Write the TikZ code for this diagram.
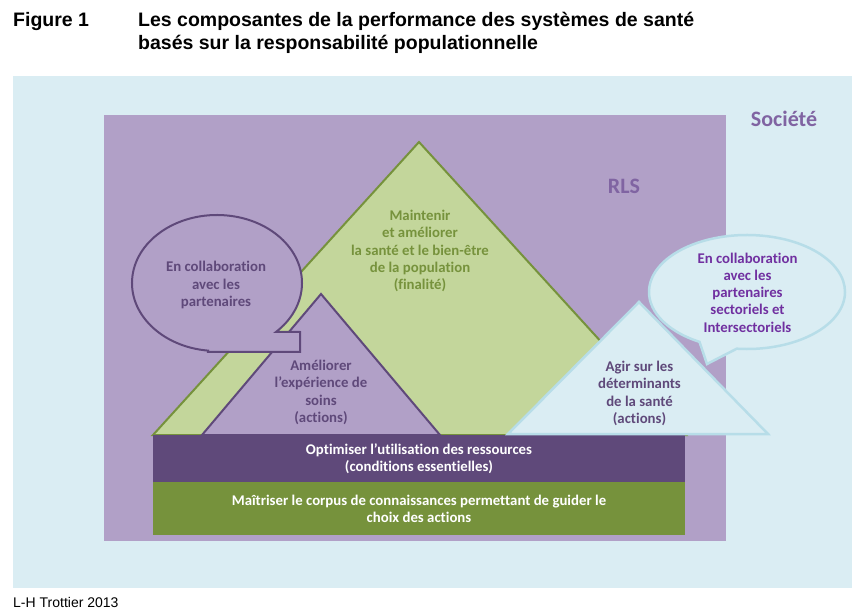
\documentclass[tikz,border=0pt]{standalone}
\usepackage{fontspec}
\setmainfont{Carlito}[Ligatures=NoCommon]
\newfontfamily\arialfont{Liberation Sans}
\definecolor{socblue}{RGB}{218,237,243}
\definecolor{socedge}{RGB}{183,221,232}
\definecolor{rlspurple}{RGB}{177,160,199}
\definecolor{darkpurple}{RGB}{95,73,122}
\definecolor{midpurple}{RGB}{128,100,162}
\definecolor{vividpurple}{RGB}{112,48,160}
\definecolor{lightgreen}{RGB}{195,214,155}
\definecolor{olivegreen}{RGB}{118,146,60}
\usetikzlibrary{positioning}

\tikzset{
  txt/.style={font=\bfseries\fontsize{14.8}{17.2}\selectfont,align=center,inner sep=0pt},
  bigtxt/.style={font=\bfseries\fontsize{22}{26}\selectfont,text=midpurple,inner sep=0pt},
  barbox/.style={txt,text=white,minimum width=532pt},
  tri/.style={line width=2pt,line join=miter},
  paleedge/.style={draw=socedge,fill=socblue,line width=2.5pt}
}

\begin{document}
\begin{tikzpicture}[x=1pt,y=-1pt]
  \useasboundingbox (0,0) rectangle (860,612);

  % title
  \node[anchor=base west,inner sep=0pt,font=\arialfont\bfseries\fontsize{19.5}{22.5}\selectfont] (fignum) at (13,26.7) {Figure 1};
  \node[anchor=base west,inner sep=0pt,align=left,font=\arialfont\bfseries\fontsize{19.5}{22.5}\selectfont] (figtitle) at (138,49.2)
    {Les composantes de la performance des systèmes de santé\\basés sur la responsabilité populationnelle};

  % Société and RLS
  \fill[socblue] (13,76) rectangle (852,588);
  \fill[rlspurple] (104,115) rectangle (726,541);
  \node[bigtxt] (societe) at (784,119) {Société};
  \node[bigtxt] (rls) at (624,186) {RLS};

  % finalité
  \draw[tri,draw=olivegreen,fill=lightgreen] (153,435) -- (419,142) -- (686,435) -- cycle;
  \node[txt,text=olivegreen] (finalite) at (420,251)
    {Maintenir\\et améliorer\\la santé et le bien-être\\de la population\\(finalité)};

  % expérience de soins
  \draw[tri,draw=darkpurple,fill=rlspurple] (202,435) -- (321,294) -- (440,435) -- cycle;
  \node[txt,text=darkpurple] (expsoins) at (321,392.5)
    {Améliorer\\l’expérience de\\soins\\(actions)};

  % bulle partenaires
  \coordinate (lbc) at (217,283);
  \draw[tri,draw=darkpurple,fill=rlspurple] (lbc) ++(96:85 and 68)
    arc[start angle=96,end angle=406,x radius=85,y radius=68]
    -- (300,332) -- (300,352) -- (208,352) -- cycle;
  \node[txt,text=darkpurple] (partenaires) at (216,285)
    {En collaboration\\avec les\\partenaires};

  % socle
  \node[barbox,fill=darkpurple,minimum height=47pt] (ressources) at (419,458.5)
    {Optimiser l’utilisation des ressources\\(conditions essentielles)};
  \node[barbox,fill=olivegreen,minimum height=53pt] (corpus) at (419,508.5)
    {Maîtriser le corpus de connaissances permettant de guider le\\choix des actions};

  % déterminants
  \draw[paleedge,line join=miter] (508,434) -- (639,302) -- (768,434) -- cycle;
  \node[txt,text=darkpurple] (detsante) at (639.5,393.5)
    {Agir sur les\\déterminants\\de la santé\\(actions)};

  % bulle partenaires sectoriels
  \coordinate (rbc) at (747,292);
  \draw[paleedge] (rbc) ++(96:98 and 57)
    arc[start angle=96,end angle=-241,x radius=98,y radius=57]
    -- (707,364) -- cycle;
  \node[txt,text=vividpurple] (partsect) at (747.5,292.5)
    {En collaboration\\avec les\\partenaires\\sectoriels et\\Intersectoriels};

  % source
  \node[anchor=base west,inner sep=0pt,font=\arialfont\fontsize{14}{16}\selectfont] (credit) at (13,607) {L-H Trottier 2013};
\end{tikzpicture}
\end{document}
